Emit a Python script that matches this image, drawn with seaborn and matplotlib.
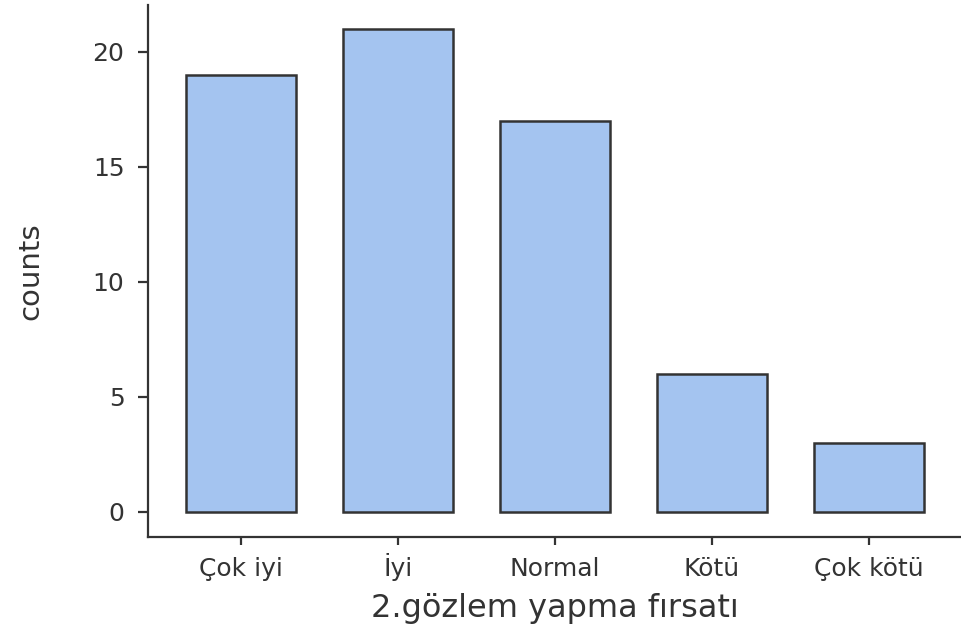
import matplotlib
matplotlib.use("Agg")
import matplotlib.pyplot as plt
import seaborn as sns
import pandas as pd

categories = ["Çok iyi", "İyi", "Normal", "Kötü", "Çok kötü"]
counts = [19, 21, 17, 6, 3]
y_ticks = [0, 5, 10, 15, 20]

sns.set_style("ticks")
plt.rcParams["font.family"] = ["DejaVu Sans"]

df = pd.DataFrame({"category": categories, "counts": counts})

fig = plt.figure(figsize=(9.61, 6.35), dpi=100)
ax = fig.add_axes([148 / 961, 1 - 537 / 635, 1 - 148 / 961, (537 - 5) / 635])

sns.barplot(data=df, x="category", y="counts", order=categories,
            color="#A4C4F0", edgecolor="#333333", linewidth=1.8,
            width=0.7, saturation=1, ax=ax)

ax.set_ylim(-1.087, 22.04)
ax.set_xlim(-0.592, 4.586)
ax.set_yticks(y_ticks)
ax.set_yticklabels([str(v) for v in y_ticks])

for side in ["top", "right"]:
    ax.spines[side].set_visible(False)
for side in ["left", "bottom"]:
    ax.spines[side].set_color("#333333")
    ax.spines[side].set_linewidth(1.6)

ax.tick_params(axis="y", length=7, width=1.6, color="#333333",
               labelsize=18, labelcolor="#333333", pad=10)
ax.tick_params(axis="x", length=6, width=1.6, color="#333333",
               labelsize=18, labelcolor="#333333", pad=22)
for lbl in ax.get_xticklabels():
    lbl.set_verticalalignment("baseline")

ax.set_xlabel("2.gözlem yapma fırsatı", fontsize=23, color="#333333")
ax.set_ylabel("counts", fontsize=21, color="#333333")
ax.xaxis.set_label_coords(0.5, -0.105)
ax.yaxis.set_label_coords(-0.128, 0.5)

fig.savefig("out.png", dpi=100)
